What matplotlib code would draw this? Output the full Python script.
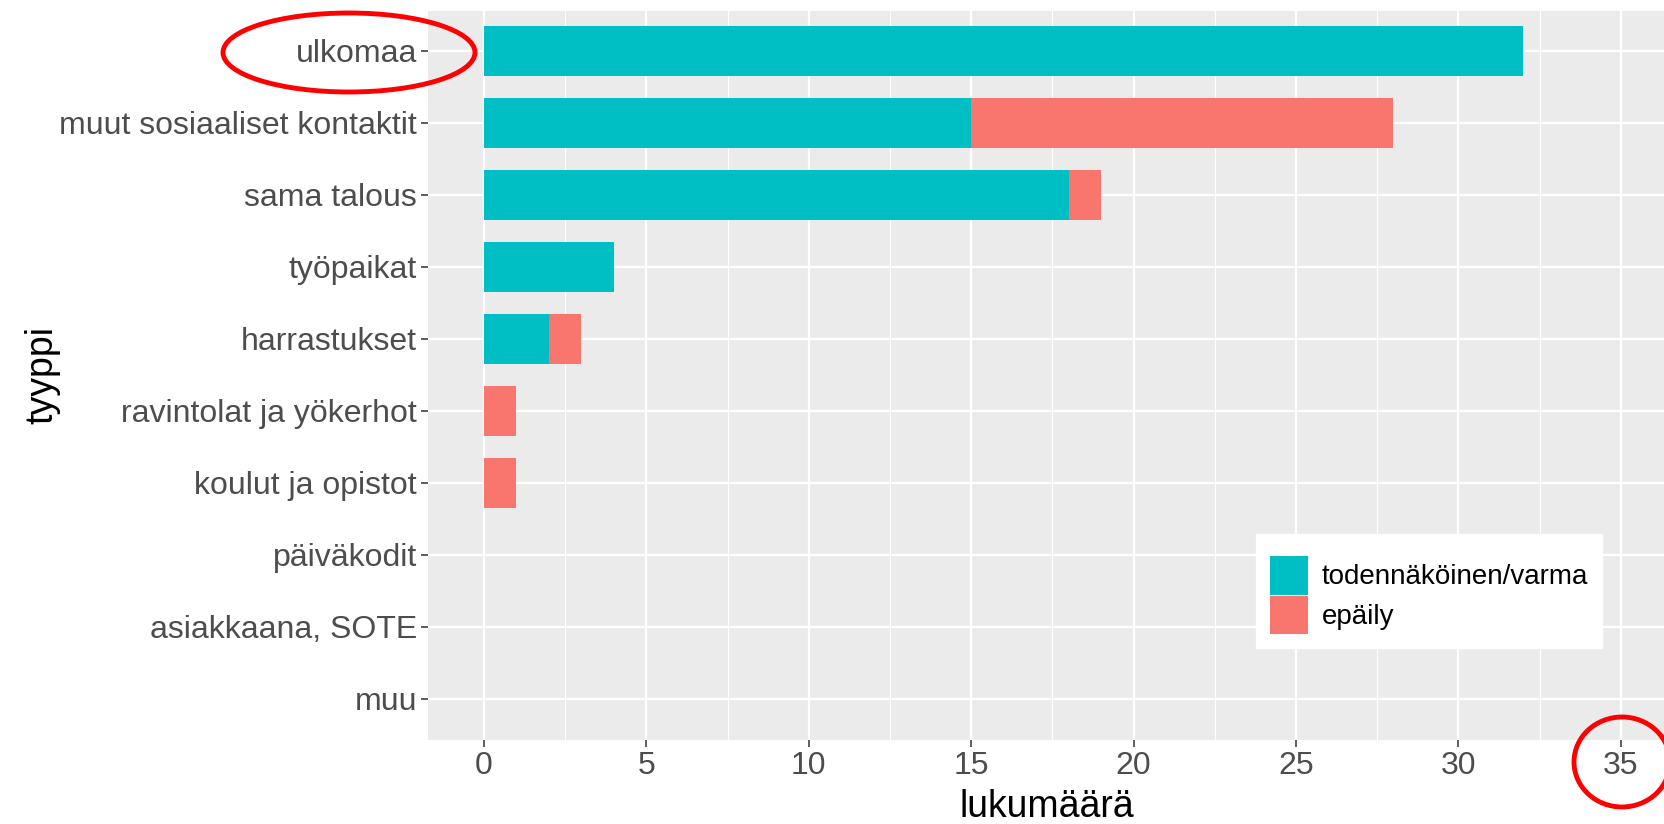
import numpy as np
import matplotlib.pyplot as plt
from matplotlib.patches import Ellipse, Patch

# Data
tyyppi = ["ulkomaa", "muut sosiaaliset kontaktit", "sama talous", "työpaikat",
          "harrastukset", "ravintolat ja yökerhot", "koulut ja opistot",
          "päiväkodit", "asiakkaana, SOTE", "muu"]
varma = [32, 15, 18, 4, 2, 0, 0, 0, 0, 0]
epaily = [0, 13, 1, 0, 1, 1, 1, 0, 0, 0]
x_ticks = [0, 5, 10, 15, 20, 25, 30, 35]

teal = "#00BFC4"
red = "#F8766D"
W, H = 1665, 824

plt.rcParams['font.family'] = ['Liberation Sans', 'DejaVu Sans']
fig = plt.figure(figsize=(W / 100, H / 100), dpi=100)
ax = fig.add_axes([428 / W, (H - 740) / H, (W - 428) / W, (740 - 10.6) / H])
ax.set_facecolor("#EBEBEB")

y = np.arange(len(tyyppi))
ax.barh(y, varma, height=0.7, color=teal, zorder=3)
ax.barh(y, epaily, left=varma, height=0.7, color=red, zorder=3)

ax.set_xlim(-1.72, 36.36)
ax.set_ylim(len(tyyppi) - 1 + 0.57, -0.56)
ax.set_xticks(x_ticks)
ax.set_xticks(np.arange(2.5, 36, 5), minor=True)
ax.set_yticks(y)
ax.set_yticklabels(tyyppi)
ax.grid(which='major', color='white', linewidth=1.6, zorder=0)
ax.grid(which='minor', axis='x', color='white', linewidth=0.8, zorder=0)
ax.set_axisbelow(True)
for s in ax.spines.values():
    s.set_visible(False)
ax.tick_params(axis='both', which='major', labelsize=23, labelcolor='#4D4D4D',
               color='#333333', length=5, width=1.1, pad=3)
ax.tick_params(axis='x', which='minor', length=0)

ax.set_xlabel("lukumäärä", fontsize=27, labelpad=6)
ax.set_ylabel("tyyppi", fontsize=27, labelpad=-1)

handles = [Patch(facecolor=teal, edgecolor='none', label="todennäköinen/varma"),
           Patch(facecolor=red, edgecolor='none', label="epäily")]
leg = ax.legend(handles=handles, loc='upper left', title=' ', title_fontsize=5,
                bbox_to_anchor=(1256 / W, 1 - 534 / H), bbox_transform=fig.transFigure,
                fontsize=20, frameon=True, fancybox=False, framealpha=1,
                handlelength=1.37, handleheight=1.75, labelspacing=0.05,
                handletextpad=0.5, borderpad=0.5, borderaxespad=0)
leg.get_frame().set_edgecolor('white')
leg.get_frame().set_facecolor('white')

# Red highlight ellipses
fig.add_artist(Ellipse((349 / W, 1 - 52.5 / H), 252 / W, 79 / H, fill=False,
                       edgecolor='red', linewidth=3.5, transform=fig.transFigure))
fig.add_artist(Ellipse((1622 / W, 1 - 762 / H), 96 / W, 90 / H, fill=False,
                       edgecolor='red', linewidth=3.5, transform=fig.transFigure))

fig.savefig("out.png", dpi=100)
